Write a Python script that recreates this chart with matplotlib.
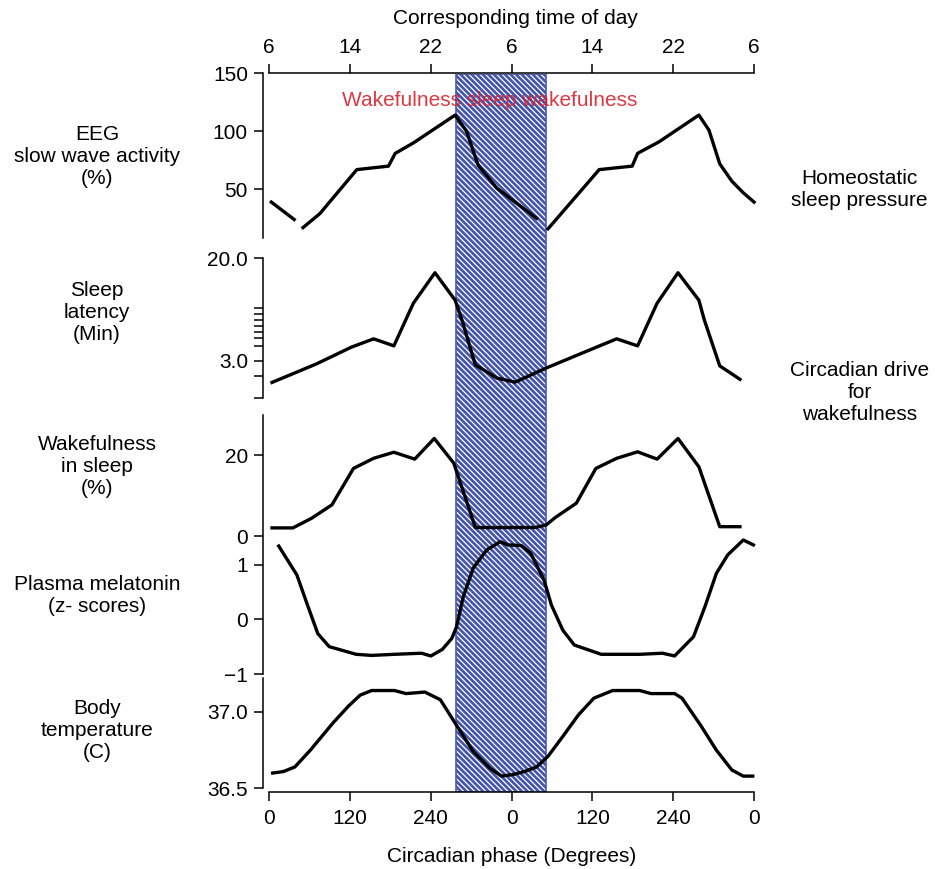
import numpy as np
import matplotlib
matplotlib.use('Agg')
import matplotlib.pyplot as plt

# values (phase in degrees, two cycles 0-720)
eegPhase = [3, 37, 43, 50, 75, 130, 177, 187, 214, 276, 293, 310, 338, 397, 405,
            414, 490, 539, 547, 579, 638, 653, 669, 687, 704, 720]
eegValue = [39, 24, np.nan, 17, 29, 67, 70, 81, 90, 114, 100, 71, 51, 25, np.nan,
            16, 67, 70, 81, 91, 114, 101, 72, 57, 47, 39]

latencyPhase = [4, 70, 122, 155, 185, 214, 246, 276, 286, 306, 338, 365, 411,
                488, 516, 547, 576, 607, 638, 646, 669, 699]
latencyMin = [2.0, 2.82, 3.85, 4.49, 3.94, 8.7, 15.3, 9.2, 6.4, 2.77, 2.17, 2.01, 2.61,
              3.89, 4.49, 3.94, 8.7, 15.3, 9.2, 6.4, 2.72, 2.12]

wakePhase = [4, 35, 63, 93, 125, 155, 185, 216, 245, 274, 306, 395, 411,
             425, 456, 485, 516, 547, 576, 607, 638, 669, 699]
wakePct = [2.0, 2.0, 4.4, 7.7, 16.7, 19.2, 20.7, 19.0, 24.1, 18.0, 2.1, 2.1, 2.7,
           4.6, 8.1, 16.7, 19.2, 20.8, 19.0, 24.1, 17.1, 2.3, 2.3]

melPhase = [14, 41, 55, 72, 89, 129, 152, 186, 226, 240, 257, 271, 278, 288, 303,
            323, 343, 354, 374, 388, 408, 419, 436, 453, 493, 550, 584, 602, 630,
            647, 664, 681, 704, 719]
melZ = [1.34, 0.81, 0.32, -0.26, -0.50, -0.64, -0.66, -0.64, -0.62, -0.67, -0.55,
        -0.35, -0.14, 0.41, 0.94, 1.27, 1.42, 1.36, 1.35, 1.21, 0.72, 0.26, -0.20,
        -0.47, -0.64, -0.64, -0.62, -0.67, -0.32, 0.23, 0.84, 1.18, 1.45, 1.36]

tempPhase = [5, 21, 38, 61, 95, 118, 135, 152, 186, 203, 231, 254, 277, 303, 328,
             345, 362, 379, 397, 414, 436, 459, 482, 510, 550, 567, 602, 613, 641,
             664, 687, 704, 718]
tempC = [36.60, 36.61, 36.64, 36.75, 36.93, 37.04, 37.11, 37.14, 37.14, 37.12, 37.13,
         37.08, 36.92, 36.74, 36.63, 36.58, 36.59, 36.61, 36.64, 36.71, 36.84, 36.98,
         37.09, 37.14, 37.14, 37.12, 37.12, 37.09, 36.91, 36.75, 36.62, 36.58, 36.58]

phaseTicks = [0, 120, 240, 360, 480, 600, 720]
phaseLabels = ['0', '120', '240', '0', '120', '240', '0']
hourLabels = ['6', '14', '22', '6', '14', '22', '6']
sleepStart, sleepEnd = 278, 410.5

W, H = 935, 869
phaseLim = (-10.1, 728.8)
lineColor = 'black'
shadeBlue = '#4454aa'
fontSize = 15

plt.rcParams['font.family'] = ['Liberation Sans', 'DejaVu Sans']
plt.rcParams['hatch.linewidth'] = 0.9


def pxRect(top, bottom, left=262.5, right=760):
	return [left / W, 1 - bottom / H, (right - left) / W, (bottom - top) / H]


def styleLeft(ax, lo, hi):
	ax.set_facecolor('none')
	for side in ['top', 'right', 'bottom']:
		ax.spines[side].set_visible(False)
	ax.spines['left'].set_bounds(lo, hi)
	ax.spines['left'].set_linewidth(1.1)
	ax.set_xlim(*phaseLim)
	ax.set_xticks([])
	ax.tick_params(axis='y', which='both', direction='out', length=6.5, width=1.1,
	               pad=4, labelsize=fontSize)


def main():
	fig = plt.figure(figsize=(W / 100, H / 100), dpi=100)

	# shaded sleep episode behind every panel
	shade = fig.add_axes(pxRect(74, 791.7))
	shade.set_xlim(*phaseLim)
	shade.set_ylim(0, 1)
	shade.axis('off')
	shade.axvspan(sleepStart, sleepEnd, facecolor=shadeBlue, edgecolor='white',
	              hatch='\\\\\\\\\\\\', linewidth=0)
	shade.axvspan(sleepStart, sleepEnd, fill=False, edgecolor='#4a5ab0', linewidth=1.2)

	# EEG slow wave activity
	ax1 = fig.add_axes(pxRect(73.3, 238.3))
	styleLeft(ax1, 7.8, 150)
	ax1.plot(eegPhase, eegValue, color=lineColor, lw=2.4)
	ax1.set_ylim(7.8, 150)
	ax1.set_yticks([50, 100, 150])
	ax1.spines['top'].set_visible(True)
	ax1.spines['top'].set_bounds(0, 720)
	ax1.spines['top'].set_linewidth(1.1)
	ax1.xaxis.set_ticks_position('top')
	ax1.set_xticks(phaseTicks)
	ax1.set_xticklabels(hourLabels)
	ax1.tick_params(axis='x', direction='out', length=6.5, width=1.1, pad=5,
	                labelsize=fontSize)

	# sleep latency (log-like axis)
	ax2 = fig.add_axes(pxRect(258.3, 398.3))
	ax2.set_yscale('log')
	styleLeft(ax2, 1.49, 20)
	ax2.plot(latencyPhase, latencyMin, color=lineColor, lw=2.4)
	ax2.set_ylim(1.49, 20)
	ax2.set_yticks([3, 20])
	ax2.set_yticklabels(['3.0', '20.0'])
	ax2.set_yticks([1.49, 2.25, 3.9, 4.6, 5.1, 5.73, 6.35, 7.1, 7.9], minor=True)
	ax2.set_yticklabels([], minor=True)
	ax2.set_xticks([])

	# wakefulness in sleep
	ax3 = fig.add_axes(pxRect(415, 536))
	styleLeft(ax3, 0, 29.9)
	ax3.plot(wakePhase, wakePct, color=lineColor, lw=2.4)
	ax3.set_ylim(0, 29.9)
	ax3.set_yticks([0, 20])

	# plasma melatonin
	ax4 = fig.add_axes(pxRect(537, 674))
	styleLeft(ax4, -1, 1.505)
	ax4.plot(melPhase, melZ, color=lineColor, lw=2.4)
	ax4.set_ylim(-1, 1.505)
	ax4.set_yticks([-1, 0, 1])
	ax4.set_yticklabels(['\u22121', '0', '1'])

	# body temperature with the phase axis
	ax5 = fig.add_axes(pxRect(678.3, 791.7))
	styleLeft(ax5, 36.5, 37.22)
	ax5.plot(tempPhase, tempC, color=lineColor, lw=2.4)
	ax5.set_ylim(36.478, 37.22)
	ax5.set_yticks([36.5, 37.0])
	ax5.set_yticklabels(['36.5', '37.0'])
	ax5.spines['bottom'].set_visible(True)
	ax5.spines['bottom'].set_bounds(0, 720)
	ax5.spines['bottom'].set_linewidth(1.1)
	ax5.set_xticks(phaseTicks)
	ax5.set_xticklabels(phaseLabels)
	ax5.tick_params(axis='x', direction='out', length=6.5, width=1.1, pad=6,
	                labelsize=fontSize)

	# texts
	fig.text(515 / W, 1 - 18 / H, 'Corresponding time of day', ha='center', va='center',
	         fontsize=fontSize)
	fig.text(489.5 / W, 1 - 100 / H, 'Wakefulness sleep wakefulness', ha='center',
	         va='center', fontsize=fontSize, color='#d8232e', alpha=0.9)
	fig.text(512 / W, 1 - 856 / H, 'Circadian phase (Degrees)', ha='center', va='center',
	         fontsize=fontSize)

	leftLabels = [('EEG\nslow wave activity\n(%)', 156),
	              ('Sleep\nlatency\n(Min)', 313),
	              ('Wakefulness\nin sleep\n(%)', 467),
	              ('Plasma melatonin\n(z- scores)', 595),
	              ('Body\ntemperature\n(C)', 731)]
	for label, yPix in leftLabels:
		fig.text(97 / W, 1 - yPix / H, label, ha='center', va='center',
		         multialignment='center', fontsize=fontSize)

	fig.text(859 / W, 1 - 189 / H, 'Homeostatic\nsleep pressure', ha='center',
	         va='center', multialignment='center', fontsize=fontSize)
	fig.text(860 / W, 1 - 392 / H, 'Circadian drive\nfor\nwakefulness', ha='center',
	         va='center', multialignment='center', fontsize=fontSize)

	fig.savefig('out.png', dpi=100)
	plt.close(fig)


if __name__ == "__main__":
	main()
